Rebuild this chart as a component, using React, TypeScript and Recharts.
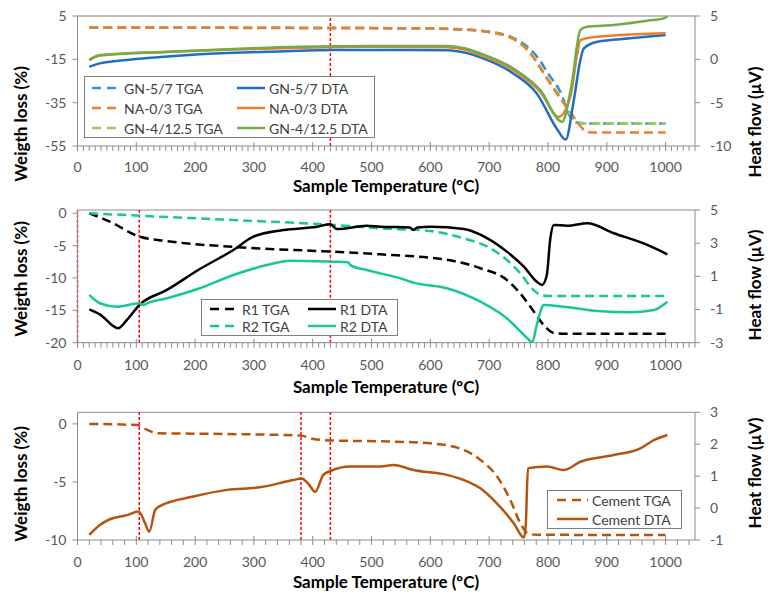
import React from 'react';
import { ComposedChart, Line, XAxis, YAxis, ReferenceLine, Legend } from 'recharts';

type Pt = [number, number];

// ---------- Panel 1 (weight loss %, heat flow µV) ----------
const gn57Tga: Pt[] = [[20, -0.3], [100, -0.4], [200, -0.4], [300, -0.5], [400, -0.5], [500, -0.6], [600, -0.8], [650, -1.2], [700, -2.2], [740, -5], [765, -9.2], [785, -15], [800, -21.5], [821, -30], [838, -41.6], [850, -44.2], [870, -44.6], [1000, -44.6]];
const naTga: Pt[] = [[20, -0.3], [200, -0.4], [400, -0.5], [600, -0.7], [650, -1.1], [700, -2.5], [740, -5.5], [765, -10.7], [800, -24.6], [821, -33], [835, -38], [850, -44], [867, -48.6], [880, -48.8], [1000, -48.8]];
const gn412Tga: Pt[] = [[20, -0.3], [200, -0.4], [400, -0.5], [600, -0.75], [650, -1.15], [700, -2.4], [740, -5.3], [765, -10.3], [800, -24], [821, -32.5], [838, -40.5], [852, -44.4], [870, -44.6], [1000, -44.6]];
const gn57Dta: Pt[] = [[20, -0.86], [38, -0.47], [95, 0.0], [208, 0.6], [322, 0.87], [435, 1.07], [515, 1.07], [628, 1.05], [660, 0.75], [685, 0.22], [741, -1.63], [781, -3.94], [815, -8.0], [830, -9.26], [844, -4.7], [855, -0.09], [861, 1.27], [884, 2.03], [940, 2.42], [1000, 2.8]];
const naDta: Pt[] = [[20, -0.05], [38, 0.49], [152, 0.87], [265, 1.14], [379, 1.33], [492, 1.45], [628, 1.38], [660, 1.1], [685, 0.49], [741, -1.25], [787, -3.75], [818, -6.64], [838, -4.33], [850, 0.69], [855, 2.22], [884, 2.6], [1000, 3.0]];
const gn412Dta: Pt[] = [[20, -0.1], [38, 0.45], [152, 0.85], [265, 1.2], [379, 1.45], [492, 1.55], [628, 1.53], [660, 1.25], [685, 0.69], [741, -1.05], [787, -3.56], [824, -7.2], [840, -3], [855, 3.38], [866, 3.76], [912, 3.96], [969, 4.46], [997, 4.73], [1003, 4.95]];

// ---------- Panel 2 ----------
const r1Tga: Pt[] = [[20, 0], [55, -1.3], [105, -3.6], [152, -4.3], [265, -5.2], [435, -5.95], [515, -6.35], [628, -7.2], [685, -8.5], [730, -10.3], [753, -12.4], [776, -15.2], [793, -17.3], [810, -18.5], [830, -18.6], [1000, -18.6]];
const r2Tga: Pt[] = [[20, 0], [105, -0.38], [265, -1.05], [435, -1.8], [515, -2.33], [600, -2.75], [657, -3.9], [697, -5.17], [730, -7.2], [753, -9.3], [776, -11.9], [787, -12.6], [800, -12.8], [1000, -12.8]];
const r1Dta: Pt[] = [[20, -0.99], [38, -1.29], [69, -2.13], [84, -1.63], [105, -0.73], [152, 0.18], [208, 1.44], [265, 2.59], [299, 3.39], [350, 3.79], [407, 3.99], [430, 4.14], [441, 3.85], [492, 4.05], [515, 3.99], [565, 3.95], [571, 3.8], [578, 3.95], [600, 3.99], [657, 3.85], [697, 3.29], [730, 2.49], [759, 1.58], [781, 0.68], [790, 0.48], [798, 1.08], [804, 3.29], [810, 4.1], [833, 4.05], [867, 4.2], [912, 3.6], [969, 2.9], [1003, 2.33]];
const r2Dta: Pt[] = [[20, -0.12], [38, -0.62], [67, -0.83], [105, -0.62], [112, -0.73], [120, -0.6], [152, -0.32], [208, 0.28], [265, 1.08], [322, 1.68], [362, 1.94], [435, 1.88], [460, 1.85], [464, 1.68], [492, 1.38], [515, 1.18], [549, 0.88], [571, 0.62], [628, 0.28], [685, -0.53], [730, -1.53], [765, -2.73], [773, -2.98], [781, -1.93], [793, -0.73], [827, -0.83], [884, -1.09], [940, -1.17], [980, -1.03], [1003, -0.53]];

// ---------- Panel 3 ----------
const cemTga: Pt[] = [[20, 0], [101, -0.1], [118, -0.5], [135, -0.8], [254, -0.87], [379, -1.0], [401, -1.3], [430, -1.42], [515, -1.5], [600, -1.67], [657, -2.25], [685, -3.1], [713, -4.5], [736, -6.55], [753, -8.56], [765, -9.4], [780, -9.55], [1000, -9.57]];
const cemDta: Pt[] = [[20, -0.84], [38, -0.53], [55, -0.35], [84, -0.22], [104, -0.11], [115, -0.48], [122, -0.74], [132, -0.06], [140, 0.06], [197, 0.36], [254, 0.57], [310, 0.65], [367, 0.88], [381, 0.93], [393, 0.75], [404, 0.51], [418, 1.04], [430, 1.16], [464, 1.3], [515, 1.3], [538, 1.35], [571, 1.19], [628, 1.04], [657, 0.88], [685, 0.62], [713, 0.15], [742, -0.48], [759, -0.92], [762, -0.6], [766, 1.25], [799, 1.3], [827, 1.19], [855, 1.45], [912, 1.66], [957, 1.87], [980, 2.13], [1003, 2.29]];

// ---------- axes ----------
const X_LABELS = [0, 100, 200, 300, 400, 500, 600, 700, 800, 900, 1000];
const X_MAX = 1050;
const P1_LEFT_TICKS = [-55, -35, -15, 5];
const P1_RIGHT_TICKS = [-10, -5, 0, 5];
const P2_LEFT_TICKS = [-20, -15, -10, -5, 0];
const P2_RIGHT_TICKS = [-3, -1, 1, 3, 5];
const P3_LEFT_TICKS = [-10, -5, 0];
const P3_RIGHT_TICKS = [-1, 0, 1, 2, 3];
const P1_REF = [430];
const P2_REF = [0, 105, 430];
const P3_REF = [105, 380, 430];

const fineTicks = (step: number) => {
  const out: number[] = [];
  for (let v = 0; v <= X_MAX; v += step) out.push(v);
  return out;
};

const FONT = 'Lato, "Open Sans", sans-serif';
const AXIS = '#8c8c8c';
const TICK_TXT = '#595959';
const BLUE_T = '#3a8ad6';
const BLUE_D = '#1f6fc2';
const ORANGE = '#ed7d31';
const GREEN_T = '#92d050';
const GREEN_D = '#70ad47';
const TEAL = '#17c79b';
const BROWN = '#b5540f';
const DASH = '9 5';

const rows = (pts: Pt[]) => pts.map(([t, v]) => ({ t, v }));

const makeXTick = (labelDy: number) => (props: any) => {
  const { x, y, payload } = props;
  const val = payload.value as number;
  const major = val % 100 === 0;
  return (
    <g>
      <line x1={x} x2={x} y1={major ? y - 4 : y} y2={y + 5} stroke={AXIS} strokeWidth={1} />
      {major && X_LABELS.includes(val) && (
        <text x={x} y={y + labelDy} textAnchor="middle" dominantBaseline="central" fill={TICK_TXT} fontSize={14} fontFamily={FONT}>
          {val}
        </text>
      )}
    </g>
  );
};

const vTitle = (text: string, x: number, y: number) => () => (
  <text x={x} y={y} transform={`rotate(-90 ${x} ${y})`} textAnchor="middle" dominantBaseline="central" fontFamily={FONT} fontWeight={700} fontSize={17} fill="#000">
    {text}
  </text>
);
const hTitle = (y: number) => () => (
  <text x={386} y={y} textAnchor="middle" dominantBaseline="central" fontFamily={FONT} fontWeight={700} fontSize={17} fill="#000">
    Sample Temperature (ºC)
  </text>
);

type LegItem = { name: string; color: string; dashed: boolean; x: number; y: number };

const LegendBox = ({ w, h, items, lineLen }: { w: number; h: number; items: LegItem[]; lineLen: number }) => (
  <div style={{ width: w, height: h, border: '1px solid #7f7f7f', background: '#fff', boxSizing: 'border-box' }}>
    <svg width={w - 2} height={h - 2} style={{ display: 'block' }}>
      {items.map((it) => (
        <g key={it.name}>
          <line x1={it.x} x2={it.x + lineLen} y1={it.y} y2={it.y} stroke={it.color} strokeWidth={2.5} strokeDasharray={it.dashed ? '9 6' : undefined} />
          <text x={it.x + lineLen + 4} y={it.y} dominantBaseline="central" fontFamily={FONT} fontSize={14} fill="#404040">
            {it.name}
          </text>
        </g>
      ))}
    </svg>
  </div>
);

const P1_LEGEND: LegItem[] = [
  { name: 'GN-5/7 TGA', color: BLUE_T, dashed: true, x: 7, y: 11 },
  { name: 'NA-0/3 TGA', color: ORANGE, dashed: true, x: 7, y: 31 },
  { name: 'GN-4/12.5 TGA', color: GREEN_T, dashed: true, x: 7, y: 51 },
  { name: 'GN-5/7 DTA', color: BLUE_D, dashed: false, x: 152, y: 11 },
  { name: 'NA-0/3 DTA', color: ORANGE, dashed: false, x: 152, y: 31 },
  { name: 'GN-4/12.5 DTA', color: GREEN_D, dashed: false, x: 152, y: 51 },
];
const P2_LEGEND: LegItem[] = [
  { name: 'R1 TGA', color: '#000', dashed: true, x: 8, y: 9 },
  { name: 'R2 TGA', color: TEAL, dashed: true, x: 8, y: 26 },
  { name: 'R1 DTA', color: '#000', dashed: false, x: 106, y: 9 },
  { name: 'R2 DTA', color: TEAL, dashed: false, x: 106, y: 26 },
];
const P3_LEGEND: LegItem[] = [
  { name: 'Cement TGA', color: BROWN, dashed: true, x: 9, y: 9 },
  { name: 'Cement DTA', color: BROWN, dashed: false, x: 9, y: 28 },
];

type Series = { name: string; pts: Pt[]; color: string; dashed: boolean; axis: 'l' | 'r' };

type PanelProps = {
  top: number;
  height: number;
  marginTop: number;
  xAxisHeight: number;
  leftDomain: [number, number];
  leftTicks: number[];
  rightDomain: [number, number];
  rightTicks: number[];
  series: Series[];
  refs: number[];
  minorStep: number;
  tickLabelDy: number;
  xTitleY: number;
  leftTitleY: number;
  rightTitleY: number;
  topDotted: boolean;
  legend: { left: number; top: number; w: number; h: number; items: LegItem[]; lineLen: number };
};

const Panel = (p: PanelProps) => (
  <div style={{ position: 'absolute', left: 0, top: p.top }}>
    <ComposedChart width={768} height={p.height} margin={{ top: p.marginTop, right: 0, bottom: 0, left: 0 }}>
      <XAxis
        dataKey="t"
        type="number"
        domain={[0, X_MAX]}
        ticks={fineTicks(p.minorStep)}
        interval={0}
        allowDataOverflow
        height={p.xAxisHeight}
        tickSize={0}
        tickMargin={0}
        tickLine={false}
        axisLine={{ stroke: AXIS }}
        tick={makeXTick(p.tickLabelDy)}
        label={hTitle(p.xTitleY)}
      />
      <YAxis
        yAxisId="l"
        type="number"
        domain={p.leftDomain}
        ticks={p.leftTicks}
        allowDataOverflow
        width={77.5}
        tickSize={5}
        tickMargin={6}
        axisLine={{ stroke: AXIS }}
        tickLine={{ stroke: AXIS }}
        tick={{ fill: TICK_TXT, fontSize: 14, fontFamily: FONT }}
        label={vTitle('Weigth loss (%)', 20, p.leftTitleY)}
      />
      <YAxis
        yAxisId="r"
        orientation="right"
        type="number"
        domain={p.rightDomain}
        ticks={p.rightTicks}
        allowDataOverflow
        width={73}
        tickSize={5}
        tickMargin={10}
        axisLine={{ stroke: AXIS }}
        tickLine={{ stroke: AXIS }}
        tick={{ fill: TICK_TXT, fontSize: 14, fontFamily: FONT }}
        label={vTitle('Heat flow (µV)', 754, p.rightTitleY)}
      />
      <ReferenceLine
        yAxisId="l"
        y={p.leftDomain[1]}
        stroke={p.topDotted ? '#000' : AXIS}
        strokeDasharray={p.topDotted ? '1 1' : undefined}
        strokeWidth={1}
      />
      {p.refs.map((r) => (
        <ReferenceLine key={r} yAxisId="l" x={r} stroke="#ff0000" strokeDasharray="3 2" strokeWidth={1.5} />
      ))}
      {p.series.map((s) => (
        <Line
          key={s.name}
          yAxisId={s.axis}
          data={rows(s.pts)}
          dataKey="v"
          name={s.name}
          type="monotone"
          stroke={s.color}
          strokeWidth={2.5}
          strokeDasharray={s.dashed ? DASH : undefined}
          dot={false}
          activeDot={false}
          isAnimationActive={false}
        />
      ))}
      <Legend
        layout="horizontal"
        align="center"
        verticalAlign="middle"
        wrapperStyle={{ left: p.legend.left, top: p.legend.top, width: p.legend.w, height: p.legend.h }}
        content={() => <LegendBox w={p.legend.w} h={p.legend.h} items={p.legend.items} lineLen={p.legend.lineLen} />}
      />
    </ComposedChart>
  </div>
);

export default function App() {
  return (
    <div style={{ position: 'absolute', left: 0, top: 0, width: 768, height: 598, background: '#fff', overflow: 'hidden' }}>
      <Panel
        top={0}
        height={195}
        marginTop={16}
        xAxisHeight={49}
        leftDomain={[-55, 5]}
        leftTicks={P1_LEFT_TICKS}
        rightDomain={[-10, 5]}
        rightTicks={P1_RIGHT_TICKS}
        minorStep={10}
        tickLabelDy={20}
        xTitleY={185.5}
        leftTitleY={124}
        rightTitleY={122}
        topDotted
        refs={P1_REF}
        series={[
          { name: 'GN-5/7 TGA', pts: gn57Tga, color: BLUE_T, dashed: true, axis: 'l' },
          { name: 'GN-4/12.5 TGA', pts: gn412Tga, color: GREEN_T, dashed: true, axis: 'l' },
          { name: 'NA-0/3 TGA', pts: naTga, color: ORANGE, dashed: true, axis: 'l' },
          { name: 'GN-5/7 DTA', pts: gn57Dta, color: BLUE_D, dashed: false, axis: 'r' },
          { name: 'NA-0/3 DTA', pts: naDta, color: ORANGE, dashed: false, axis: 'r' },
          { name: 'GN-4/12.5 DTA', pts: gn412Dta, color: GREEN_D, dashed: false, axis: 'r' },
        ]}
        legend={{ left: 84, top: 76, w: 291, h: 62, items: P1_LEGEND, lineLen: 28 }}
      />
      <Panel
        top={195}
        height={205}
        marginTop={15}
        xAxisHeight={57.3}
        leftDomain={[-20, 0.5]}
        leftTicks={P2_LEFT_TICKS}
        rightDomain={[-3, 5]}
        rightTicks={P2_RIGHT_TICKS}
        minorStep={10}
        tickLabelDy={22}
        xTitleY={191.5}
        leftTitleY={84}
        rightTitleY={90}
        topDotted={false}
        refs={P2_REF}
        series={[
          { name: 'R1 TGA', pts: r1Tga, color: '#000', dashed: true, axis: 'l' },
          { name: 'R2 TGA', pts: r2Tga, color: TEAL, dashed: true, axis: 'l' },
          { name: 'R1 DTA', pts: r1Dta, color: '#000', dashed: false, axis: 'r' },
          { name: 'R2 DTA', pts: r2Dta, color: TEAL, dashed: false, axis: 'r' },
        ]}
        legend={{ left: 201, top: 104, w: 197, h: 37, items: P2_LEGEND, lineLen: 28 }}
      />
      <Panel
        top={390}
        height={208}
        marginTop={22.3}
        xAxisHeight={58}
        leftDomain={[-10, 1]}
        leftTicks={P3_LEFT_TICKS}
        rightDomain={[-1, 3]}
        rightTicks={P3_RIGHT_TICKS}
        minorStep={20}
        tickLabelDy={21}
        xTitleY={191.5}
        leftTitleY={94}
        rightTitleY={83}
        topDotted={false}
        refs={P3_REF}
        series={[
          { name: 'Cement TGA', pts: cemTga, color: BROWN, dashed: true, axis: 'l' },
          { name: 'Cement DTA', pts: cemDta, color: BROWN, dashed: false, axis: 'r' },
        ]}
        legend={{ left: 547, top: 100, w: 135, h: 39, items: P3_LEGEND, lineLen: 31 }}
      />
    </div>
  );
}
